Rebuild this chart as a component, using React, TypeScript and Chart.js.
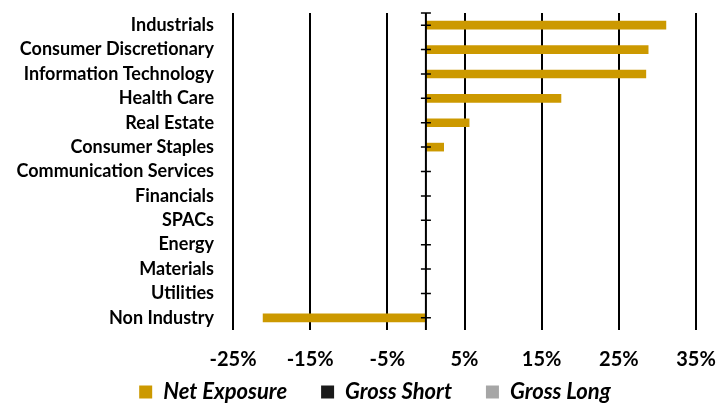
import { useEffect, useRef } from "react";
import { Chart, registerables } from "chart.js";

Chart.register(...registerables);

const categories = [
  "Industrials",
  "Consumer Discretionary",
  "Information Technology",
  "Health Care",
  "Real Estate",
  "Consumer Staples",
  "Communication Services",
  "Financials",
  "SPACs",
  "Energy",
  "Materials",
  "Utilities",
  "Non Industry",
];
const netExposure = [31.1, 28.8, 28.5, 17.5, 5.6, 2.3, 0, 0, 0, 0, 0, 0, -21.1];
const grossShort = [null, null, null, null, null, null, null, null, null, null, null, null, null];
const grossLong = [null, null, null, null, null, null, null, null, null, null, null, null, null];
const xTicks = [-25, -15, -5, 5, 15, 25, 35];

const FONT = "Lato";

const zeroAxis = {
  id: "zeroAxis",
  afterDatasetsDraw(chart: any) {
    const { ctx, scales } = chart;
    const x = scales.x;
    const y = scales.y;
    const x0 = x.getPixelForValue(0);
    ctx.save();
    ctx.strokeStyle = "#000";
    ctx.lineWidth = 2;
    ctx.beginPath();
    ctx.moveTo(x0, y.top);
    ctx.lineTo(x0, y.bottom);
    ctx.stroke();
    ctx.lineWidth = 1.5;
    ctx.beginPath();
    const marks = [y.top, ...categories.map((_, i) => y.getPixelForValue(i))];
    marks.forEach((py: number) => {
      ctx.moveTo(x0 - 5, py);
      ctx.lineTo(x0 + 5, py);
    });
    ctx.stroke();
    ctx.restore();
  },
};

const legendTweak = {
  id: "legendTweak",
  beforeInit(chart: any) {
    const lg = chart.legend;
    if (!lg) return;
    const orig = lg.fit;
    lg.fit = function () {
      orig.call(this);
      this.height = 25;
    };
  },
  afterLayout(chart: any) {
    const lg = chart.legend;
    if (lg) {
      lg.left += 27;
      lg.right += 27;
      lg.top -= 31;
    }
  },
};

export default function App() {
  const ref = useRef<HTMLCanvasElement>(null);
  useEffect(() => {
    if (!ref.current) return;
    const chart = new Chart(ref.current, {
      type: "bar",
      data: {
        labels: categories,
        datasets: [
          { label: "Net Exposure", data: netExposure, backgroundColor: "#CC9900", borderWidth: 0 },
          { label: "Gross Short", data: grossShort as any, backgroundColor: "#1A1A1A", borderWidth: 0 },
          { label: "Gross Long", data: grossLong as any, backgroundColor: "#A6A6A6", borderWidth: 0 },
        ],
      },
      options: {
        indexAxis: "y",
        animation: false,
        responsive: true,
        maintainAspectRatio: false,
        layout: { padding: { top: 13, right: 23, bottom: 0, left: 0 } },
        datasets: { bar: { grouped: false, barThickness: 8 } as any },
        scales: {
          x: {
            type: "linear",
            min: -25,
            max: 35,
            afterBuildTicks: (scale: any) => {
              scale.ticks = xTicks.map((v) => ({ value: v }));
            },
            afterFit: (scale: any) => {
              scale.paddingLeft = 0;
              scale.paddingRight = 0;
              scale.height = 48;
            },
            grid: { color: "#000", lineWidth: 2, drawTicks: false },
            border: { display: false },
            ticks: {
              padding: 18,
              color: "#000",
              maxRotation: 0,
              autoSkip: false,
              font: { family: FONT, size: 20, weight: "bold" },
              callback: (v: any) => `${v}%`,
            },
          },
          y: {
            type: "category",
            afterFit: (scale: any) => {
              scale.width = 233;
              scale.paddingTop = 0;
              scale.paddingBottom = 0;
            },
            grid: { display: false, drawTicks: false },
            border: { display: false },
            ticks: {
              padding: 19,
              color: "#000",
              autoSkip: false,
              font: { family: FONT, size: 18, weight: "bold" },
            },
          },
        },
        plugins: {
          legend: {
            position: "bottom",
            labels: {
              boxWidth: 13,
              boxHeight: 13,
              padding: 34,
              color: "#000",
              font: { family: FONT, size: 22, weight: "bold", style: "italic" },
            },
          },
          tooltip: { enabled: false },
        },
      },
      plugins: [zeroAxis, legendTweak],
    });
    return () => chart.destroy();
  }, []);
  return (
    <div style={{ position: "fixed", left: 0, top: 0, width: 719, height: 403, background: "#fff" }}>
      <canvas ref={ref} />
    </div>
  );
}
